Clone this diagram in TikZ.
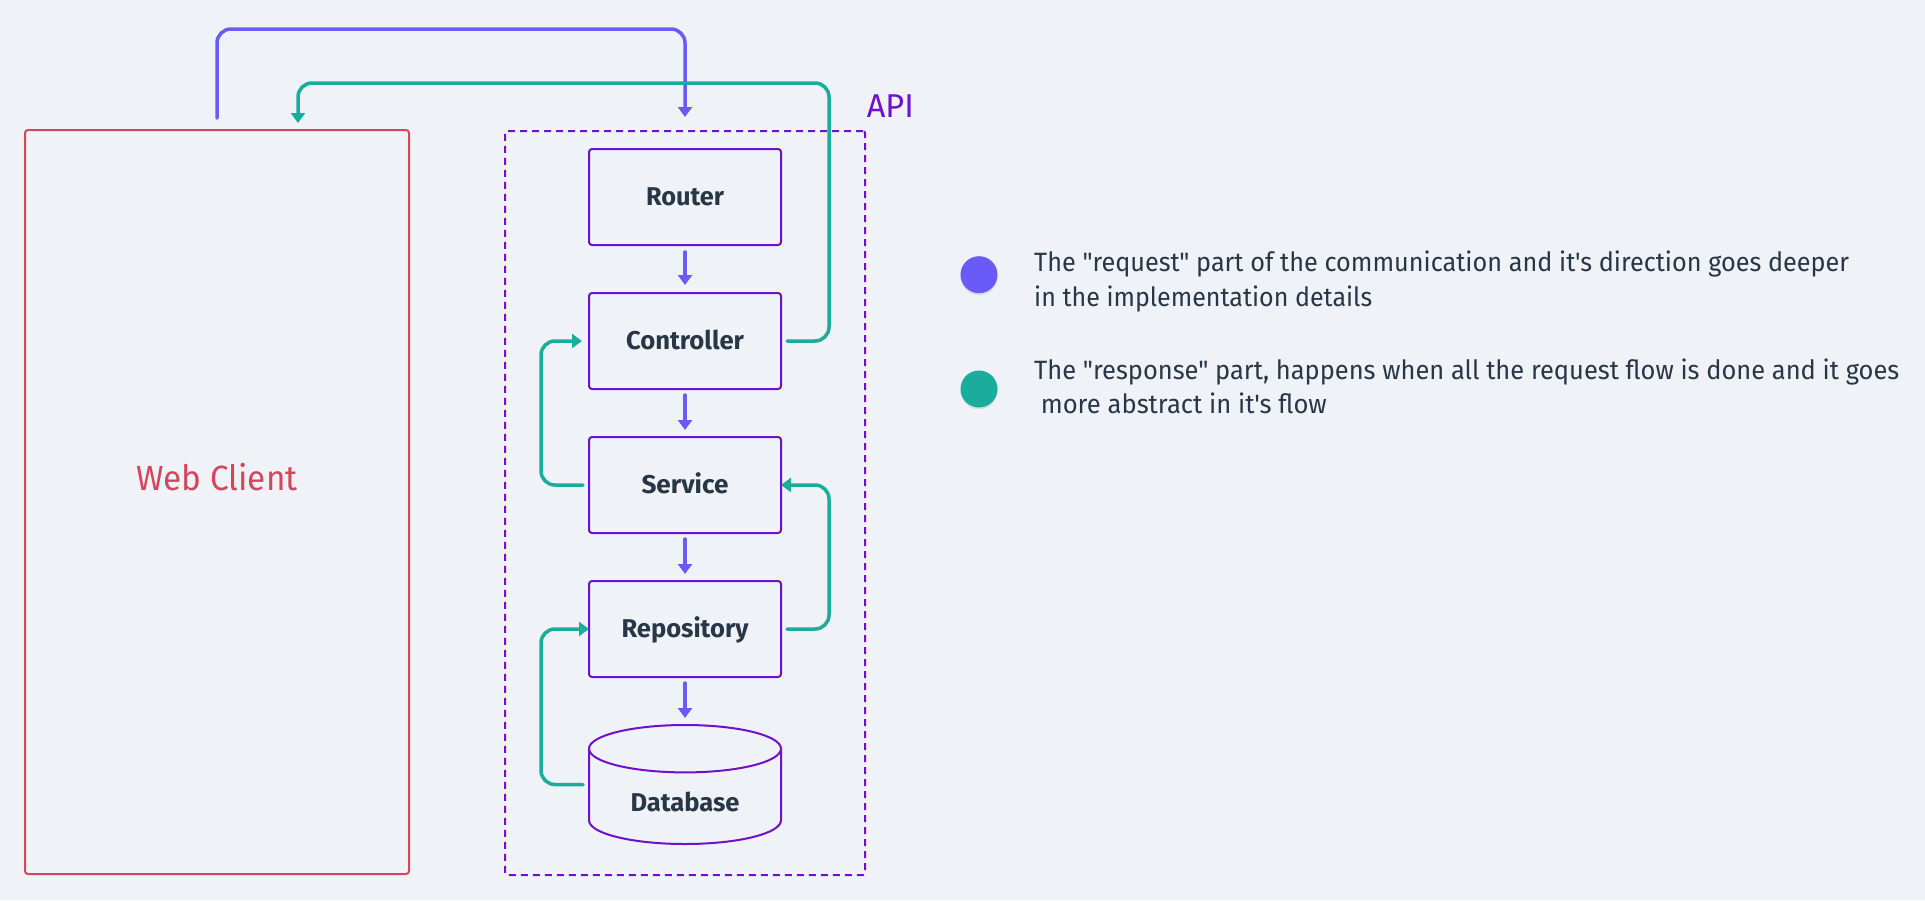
\documentclass[tikz,border=0pt]{standalone}
\usepackage{fontspec}
\usepackage{graphicx}
\setmainfont{Fira Sans}
\newfontfamily\legfont{Fira Sans}[Ligatures=TeXOff]
\usetikzlibrary{arrows.meta,shadows,calc}
\definecolor{bg}{HTML}{EFF3F7}
\definecolor{boxpurple}{HTML}{7010C8}
\definecolor{reqcol}{HTML}{6A5AF8}
\definecolor{respcol}{HTML}{1AAD9B}
\definecolor{webred}{HTML}{D6455D}
\definecolor{textdark}{HTML}{283645}
\newcommand\fitto[2]{\resizebox{#1}{\height}{#2}}
\begin{document}
\begin{tikzpicture}[x=1pt,y=-1pt,
  layerbox/.style={draw=boxpurple, line width=2pt, rounded corners=3pt,
    minimum width=192pt, minimum height=96pt, inner sep=0pt, outer sep=0pt,
    font=\fontsize{25.7}{30}\selectfont\bfseries, text=textdark,
    text height=17.7pt, text depth=0pt},
  req/.style={draw=reqcol, line width=3.5pt, line cap=round,
    -{Triangle[width=14pt,length=10pt]}, rounded corners=14pt},
  resp/.style={draw=respcol, line width=3.5pt, line cap=round,
    -{Triangle[width=14pt,length=10pt]}, rounded corners=14pt},
  legtext/.style={inner sep=0pt, anchor=base west, text=textdark,
    font=\legfont\fontsize{26.5}{30}\selectfont},
  dot/.style={circle, inner sep=0pt, minimum size=37pt,
    drop shadow={opacity=0.18, shadow xshift=0pt, shadow yshift=-2pt}}
]
\fill[bg] (0,0) rectangle (1925,900);
\useasboundingbox (0,0) rectangle (1925,900);

% Web client
\node[draw=webred, line width=2pt, rounded corners=3pt, inner sep=0pt, outer sep=0pt,
      minimum width=384pt, minimum height=744pt] (web) at (217,502) {};
\node[inner sep=0pt, text=webred, font=\fontsize{35}{40}\selectfont,
      text height=24pt, text depth=0pt] (webtxt) at (217,478.7) {\fitto{161pt}{Web Client}};

% API frame
\node[draw=boxpurple, line width=2pt, dash pattern=on 7pt off 5pt, rounded corners=2pt,
      inner sep=0pt, outer sep=0pt, minimum width=360pt, minimum height=744pt] (api) at (685,503) {};
\node[inner sep=0pt, anchor=base west, text=boxpurple, font=\fontsize{33}{36}\selectfont]
      (apitxt) at (866.7,117.3) {\fitto{47pt}{API}};

% Layers
\node[layerbox] (router) at (685,197) {\fitto{78pt}{Router}};
\node[layerbox] (ctrl) at (685,341) {\fitto{118pt}{Controller}};
\node[layerbox] (svc) at (685,485) {\fitto{87pt}{Service}};
\node[layerbox] (repo) at (685,629) {\fitto{127pt}{Repository}};

% Database cylinder
\node[inner sep=0pt, outer sep=0pt, minimum width=192pt, minimum height=119pt] (db) at (685,784.5) {};
\draw[boxpurple, line width=2pt]
  ([yshift=-23.7pt]db.north west) -- ([yshift=23.7pt]db.south west)
  arc[start angle=180, end angle=360, x radius=96pt, y radius=23.7pt]
  -- ([yshift=-23.7pt]db.north east);
\draw[boxpurple, line width=2pt] ([yshift=-23.7pt]db.north) ellipse [x radius=96pt, y radius=23.7pt];
\node[inner sep=0pt, font=\fontsize{25.7}{30}\selectfont\bfseries, text=textdark,
      text height=17.7pt, text depth=0pt] (dbtxt) at ([yshift=-18pt]db.center) {\fitto{109pt}{Database}};

% Request arrows
\coordinate (ptop) at (685,29);
\draw[req] ([yshift=12pt]web.north) |- (ptop) -- ([yshift=14pt]api.north);
\draw[req, shorten <=7pt, shorten >=8pt] (router) -- (ctrl);
\draw[req, shorten <=6pt, shorten >=7pt] (ctrl) -- (svc);
\draw[req, shorten <=6pt, shorten >=7pt] (svc) -- (repo);
\draw[req, shorten <=6pt, shorten >=7pt] (repo.south) -- (db.north);

% Response arrows
\coordinate (rtop) at (829,83);
\draw[resp] ([xshift=6pt]ctrl.east) -| (rtop) -| ([xshift=81pt,yshift=7pt]web.north);
\draw[resp] ([xshift=-6pt]svc.west) -- ++(-42,0) |- ([xshift=-7pt]ctrl.west);
\draw[resp] ([xshift=6pt]repo.east) -- ++(42,0) |- (svc.east);
\draw[resp] ([xshift=-6pt]db.west) -- ++(-42,0) |- (repo.west);

% Legend
\node[dot, fill=reqcol] (dotreq) at (979,274.7) {};
\node[dot, fill=respcol] (dotresp) at (979,389) {};
\node[legtext] (leg1) at (1034,271.7) {\fitto{815pt}{The "request" part of the communication and it's direction goes deeper}};
\node[legtext] (leg2) at (1034,306.7) {\fitto{338pt}{in the implementation details}};
\node[legtext] (leg3) at (1034,379) {\fitto{865pt}{The "response" part, happens when all the request flow is done and it goes}};
\node[legtext] (leg4) at (1040.6,413.3) {\fitto{286pt}{more abstract in it's flow}};
\end{tikzpicture}
\end{document}
